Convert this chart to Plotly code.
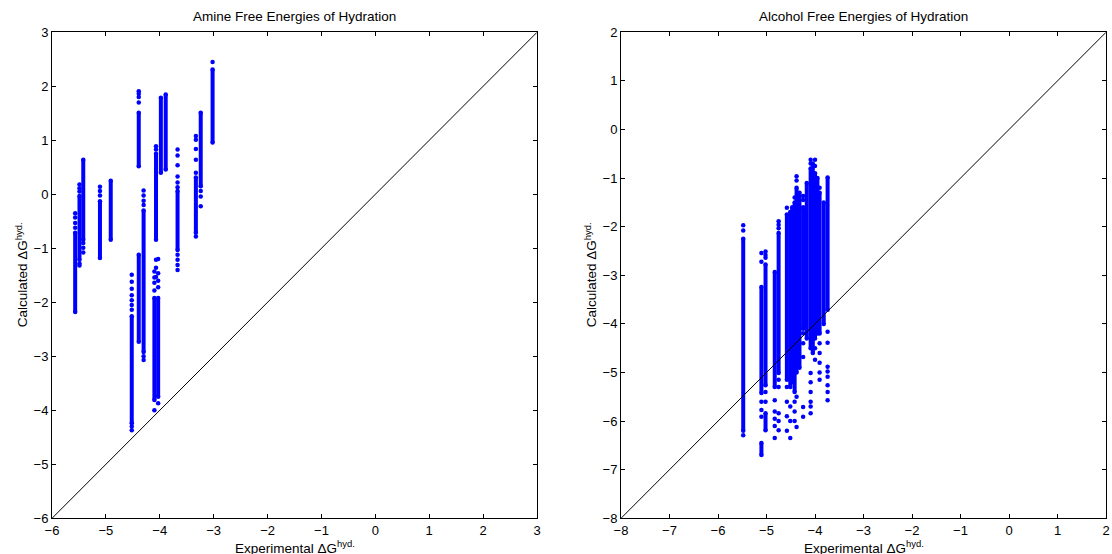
import plotly.graph_objects as go

# ---------------- data ----------------
# Amine panel: dense vertical runs of calculated values (experimental x, low, high)
amine_seg_x  = [-5.57, -5.49, -5.42, -5.11, -4.91, -4.52, -4.39, -4.39, -4.30, -4.07, -4.10, -4.03, -3.98, -3.89, -3.67, -3.33, -3.24, -3.02]
amine_seg_lo = [-2.18, -1.21, -0.84, -1.18, -0.84, -4.24,  0.52, -2.73, -2.92, -0.84, -3.81, -3.75,  0.40,  0.46, -1.03, -0.71,  0.15,  0.96]
amine_seg_hi = [-0.71, -0.03,  0.64, -0.13,  0.25, -2.26,  1.51, -1.12, -0.30,  0.75, -1.92, -1.92,  1.79,  1.85,  0.06,  0.31,  1.51,  2.31]
# Amine panel: isolated points
amine_pt_x = [-5.57, -5.57, -5.57, -5.57,
              -5.49, -5.49, -5.49, -5.49, -5.49,
              -5.42, -5.42, -5.42,
              -5.11, -5.11, -5.11,
              -4.52, -4.52, -4.52, -4.52, -4.52, -4.52, -4.52, -4.52, -4.52,
              -4.39, -4.39, -4.39, -4.39,
              -4.30, -4.30, -4.30, -4.30, -4.30, -4.30,
              -4.07, -4.07, -4.07, -4.07, -4.07,
              -4.10, -4.10, -4.10, -4.10, -4.10,
              -4.03, -4.03, -4.03, -4.03, -4.03,
              -3.67, -3.67, -3.67, -3.67, -3.67, -3.67, -3.67, -3.67, -3.67, -3.67,
              -3.33, -3.33, -3.33, -3.33, -3.33, -3.33,
              -3.24, -3.24, -3.24,
              -3.02]
amine_pt_y = [-0.35, -0.43, -0.53, -0.62,
              0.18, 0.11, 0.05, -1.28, -1.32,
              -0.90, -0.99, -1.08,
              0.14, 0.06, -0.02,
              -1.49, -1.62, -1.75, -1.87, -1.96, -2.05, -2.14, -4.30, -4.37,
              1.91, 1.86, 1.80, 1.70,
              0.07, -0.02, -0.12, -0.20, -3.00, -3.07,
              0.89, 0.83, -1.21, -1.36, -1.53,
              -1.43, -1.54, -1.64, -1.78, -4.00,
              -1.20, -1.46, -1.60, -1.72, -3.87,
              0.83, 0.72, 0.54, 0.33, 0.22, 0.13, -1.12, -1.21, -1.31, -1.40,
              1.08, 1.01, 0.84, 0.64, 0.40, -0.78,
              0.06, -0.04, -0.22,
              2.45]

# Alcohol panel: dense vertical runs
alcohol_seg_x  = [-5.48, -5.105, -5.105, -5.02, -5.02, -4.83, -4.75, -4.58, -4.51, -4.47, -4.42, -4.38,
                  -4.32, -4.245, -4.17, -4.09, -4.045, -4.00, -3.95, -3.905, -3.82, -3.74]
alcohol_seg_lo = [-6.20, -5.42, -6.70, -5.26, -6.19, -5.30, -5.01, -5.15, -5.30, -5.20, -5.40, -5.00,
                  -4.90, -4.10, -4.30, -4.50, -4.60, -4.30, -4.20, -4.20, -4.00, -3.71]
alcohol_seg_hi = [-2.25, -3.24, -6.45, -2.78, -5.84, -2.93, -2.13, -1.75, -1.70, -1.60, -1.50, -1.20,
                  -1.30, -1.60, -1.10, -0.80, -0.70, -0.90, -1.00, -1.30, -1.50, -0.99]
# Alcohol panel: isolated points
alcohol_pt_x = [-5.48, -5.48, -5.48,
                -5.105, -5.105, -5.105, -5.105, -5.105,
                -5.02, -5.02, -5.02, -5.02, -5.02,
                -4.83, -4.83, -4.83, -4.83, -4.83,
                -4.75, -4.75, -4.75, -4.75, -4.75, -4.75, -4.75, -4.75,
                -4.58, -4.58, -4.58, -4.58, -4.58,
                -4.51, -4.51, -4.51,
                -4.42, -4.42, -4.42, -4.42,
                -4.38, -4.38, -4.38, -4.38,
                -4.245, -4.245, -4.245, -4.245, -4.245, -4.245, -4.245,
                -4.09, -4.09, -4.09, -4.09, -4.09, -4.09, -4.09, -4.09,
                -4.00, -4.00, -4.00, -4.00,
                -3.905, -3.905, -3.905, -3.905, -3.905, -3.905,
                -3.74, -3.74, -3.74, -3.74, -3.74, -3.74, -3.74, -3.74]
alcohol_pt_y = [-1.97, -2.08, -6.29,
                -2.54, -2.72, -5.60, -5.77, -5.91,
                -2.51, -2.58, -2.64, -5.40, -5.60,
                -5.57, -5.80, -5.95, -6.10, -6.35,
                -1.89, -1.96, -2.03, -5.15, -5.30, -5.84, -6.00, -6.19,
                -1.61, -5.30, -5.60, -5.90, -6.20,
                -5.70, -6.00, -6.35,
                -1.40, -5.60, -5.80, -6.00,
                -0.96, -1.05, -5.50, -6.12,
                -1.37, -1.45, -4.19, -4.40, -4.68, -5.71, -5.91,
                -0.62, -0.70, -5.01, -5.20, -5.40, -5.60, -5.70, -5.84,
                -0.62, -0.75, -4.50, -4.74,
                -1.20, -4.40, -4.60, -4.80, -5.00, -5.15,
                -4.16, -4.39, -4.88, -4.98, -5.09, -5.26, -5.40, -5.57]

amine_range = [-6, 3]
alcohol_range = [-8, 2]
titles = ["Amine Free Energies of Hydration", "Alcohol Free Energies of Hydration"]
xlabel = "Experimental \u0394G<sup>hyd.</sup>"
ylabel = "Calculated \u0394G<sup>hyd.</sup>"

# ---------------- figure ----------------
BLUE = "#0000FF"
FONT = "Liberation Sans, Arial, Helvetica, sans-serif"

def seg_xy(sx, lo, hi):
    xs, ys = [], []
    for x, a, b in zip(sx, lo, hi):
        xs += [x, x, None]
        ys += [a, b, None]
    return xs, ys

fig = go.Figure()

panels = [
    (amine_seg_x, amine_seg_lo, amine_seg_hi, amine_pt_x, amine_pt_y, amine_range, "x", "y"),
    (alcohol_seg_x, alcohol_seg_lo, alcohol_seg_hi, alcohol_pt_x, alcohol_pt_y, alcohol_range, "x2", "y2"),
]
for sx, lo, hi, px, py, rng, xa, ya in panels:
    xs, ys = seg_xy(sx, lo, hi)
    fig.add_trace(go.Scatter(x=xs, y=ys, mode="lines+markers", xaxis=xa, yaxis=ya,
                             line=dict(color=BLUE, width=4),
                             marker=dict(color=BLUE, size=4.5, line=dict(width=0)),
                             hoverinfo="skip"))
    fig.add_trace(go.Scatter(x=px, y=py, mode="markers", xaxis=xa, yaxis=ya,
                             marker=dict(color=BLUE, size=4.5, line=dict(width=0))))
    fig.add_trace(go.Scatter(x=rng, y=rng, mode="lines", xaxis=xa, yaxis=ya,
                             line=dict(color="black", width=1)))

x1dom = [52 / 1112, 537 / 1112]
x2dom = [621 / 1112, 1106 / 1112]
ydom = [1 - 518.3 / 554, 1 - 32.3 / 554]

axis_common = dict(showgrid=False, zeroline=False, showline=True, linecolor="black",
                   linewidth=1, mirror="ticks", ticks="inside", ticklen=4,
                   tickcolor="black", tickwidth=1, dtick=1, automargin=False,
                   tickfont=dict(family=FONT, size=13, color="black"))

fig.update_layout(
    width=1112, height=554,
    margin=dict(l=0, r=0, t=0, b=0, autoexpand=False),
    paper_bgcolor="white", plot_bgcolor="white",
    showlegend=False,
    font=dict(family=FONT, size=13, color="black"),
    xaxis=dict(domain=x1dom, range=amine_range, anchor="y", **axis_common),
    yaxis=dict(domain=ydom, range=amine_range, anchor="x", **axis_common),
    xaxis2=dict(domain=x2dom, range=alcohol_range, anchor="y2", **axis_common),
    yaxis2=dict(domain=ydom, range=alcohol_range, anchor="x2", **axis_common),
)

annos = []
for dom, title in zip([x1dom, x2dom], titles):
    cx = (dom[0] + dom[1]) / 2
    annos.append(dict(text=title, x=cx, y=1 - 17 / 554, xref="paper", yref="paper",
                      showarrow=False, xanchor="center", yanchor="middle",
                      font=dict(family=FONT, size=13.5, color="black")))
    annos.append(dict(text=xlabel, x=cx, y=1 - 547 / 554, xref="paper", yref="paper",
                      showarrow=False, xanchor="center", yanchor="middle",
                      font=dict(family=FONT, size=13.5, color="black")))
for xpix in [22, 591]:
    annos.append(dict(text=ylabel, x=xpix / 1112, y=(ydom[0] + ydom[1]) / 2,
                      xref="paper", yref="paper", showarrow=False, textangle=-90,
                      xanchor="center", yanchor="middle",
                      font=dict(family=FONT, size=13.5, color="black")))
fig.update_layout(annotations=annos)

fig.write_html("out.html",
               config={"displayModeBar": False},
               post_script="document.body.style.margin='0';document.body.style.overflow='hidden';")
